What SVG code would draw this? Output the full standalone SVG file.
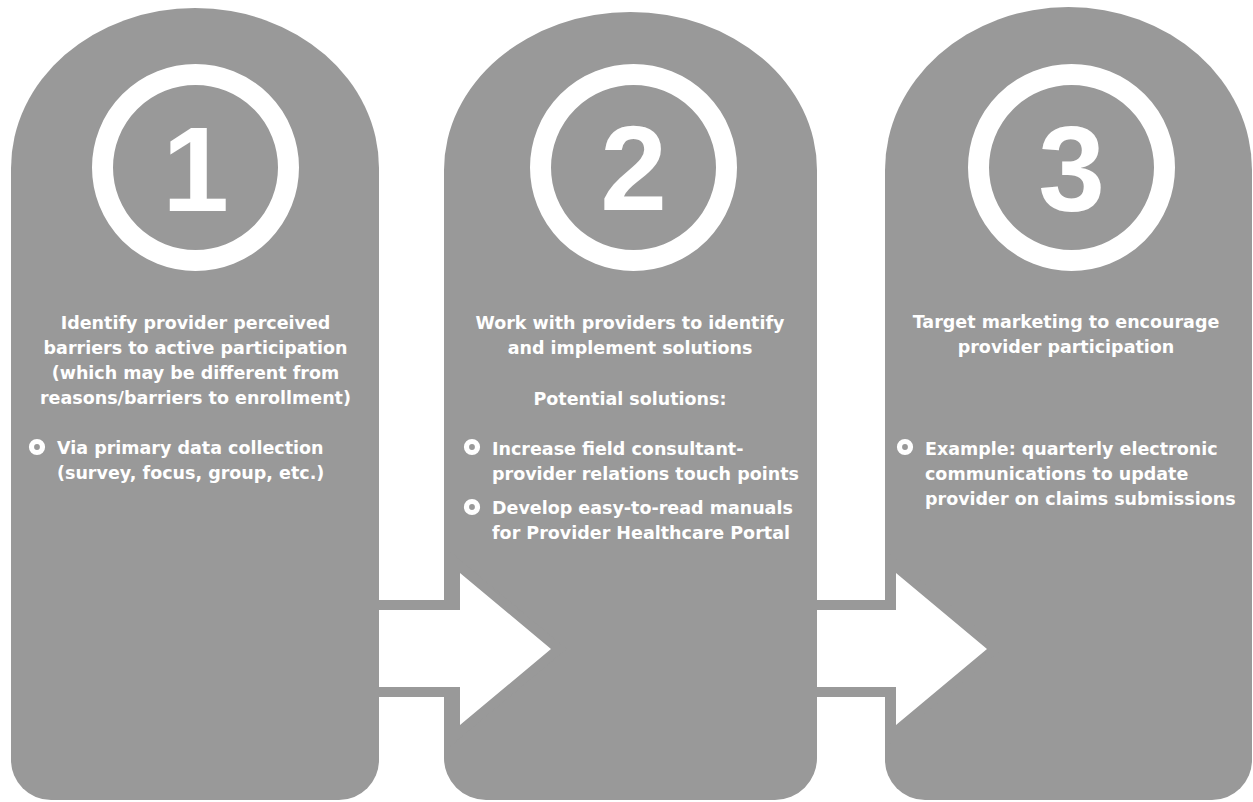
<svg xmlns="http://www.w3.org/2000/svg" width="1253" height="802" viewBox="0 0 1253 802">
<style>
.panel{fill:#999999}
.ring{fill:none;stroke:#ffffff;stroke-width:21}
.num{font-family:"Liberation Sans",Arial,sans-serif;font-weight:bold;font-size:120px;fill:#ffffff;text-anchor:middle}
.t{font-family:"DejaVu Sans",sans-serif;font-weight:bold;font-size:17.5px;fill:#ffffff}
.c{text-anchor:middle}
.bul{fill:#999999;stroke:#ffffff;stroke-width:5.2}
.arrow{fill:#ffffff;stroke:#999999;stroke-width:20;paint-order:stroke;stroke-linejoin:miter}
</style>
<rect width="1253" height="802" fill="#ffffff"/>
<g id="step1">
<path class="panel" d="M11,168 A184,160 0 0 1 379,168 L379,760 A40,40 0 0 1 339,800 L51,800 A40,40 0 0 1 11,760 Z"/>
<circle class="ring" cx="195.5" cy="167.5" r="93"/>
<text class="num" x="195.5" y="211">1</text>
<text class="t c" x="195.5" y="329">Identify provider perceived</text>
<text class="t c" x="195.5" y="354">barriers to active participation</text>
<text class="t c" x="195.5" y="379">(which may be different from</text>
<text class="t c" x="195.5" y="404">reasons/barriers to enrollment)</text>
<circle class="bul" cx="37" cy="447" r="5.5"/>
<text class="t" x="57" y="454">Via primary data collection</text>
<text class="t" x="57" y="479">(survey, focus, group, etc.)</text>
</g>
<g id="step2">
<path class="panel" d="M444,170 A186.5,158 0 0 1 817,170 L817,758 A42,42 0 0 1 775,800 L486,800 A42,42 0 0 1 444,758 Z"/>
<circle class="ring" cx="633.5" cy="167.5" r="93"/>
<text class="num" x="633.5" y="210">2</text>
<text class="t c" x="630" y="329">Work with providers to identify</text>
<text class="t c" x="630" y="354">and implement solutions</text>
<text class="t c" x="630" y="405">Potential solutions:</text>
<circle class="bul" cx="472" cy="447" r="5.5"/>
<text class="t" x="492" y="455">Increase field consultant-</text>
<text class="t" x="492" y="480">provider relations touch points</text>
<circle class="bul" cx="472" cy="507" r="5.5"/>
<text class="t" x="492" y="514">Develop easy-to-read manuals</text>
<text class="t" x="492" y="539">for Provider Healthcare Portal</text>
</g>
<g id="step3">
<path class="panel" d="M885,170 A183.5,163 0 0 1 1252,170 L1252,760 A40,40 0 0 1 1212,800 L925,800 A40,40 0 0 1 885,760 Z"/>
<circle class="ring" cx="1071.5" cy="167.5" r="93"/>
<text class="num" x="1071.5" y="211">3</text>
<text class="t c" x="1066" y="328">Target marketing to encourage</text>
<text class="t c" x="1066" y="353">provider participation</text>
<circle class="bul" cx="905" cy="447" r="5.5"/>
<text class="t" x="925" y="455">Example: quarterly electronic</text>
<text class="t" x="925" y="480">communications to update</text>
<text class="t" x="925" y="505">provider on claims submissions</text>
</g>
<g id="connectors">
<polygon class="arrow" points="379,610 460,610 460,573 551,649 460,725 460,687 379,687"/>
<polygon class="arrow" points="817,610 896,610 896,573 987,649 896,725 896,687 817,687"/>
</g>
</svg>
